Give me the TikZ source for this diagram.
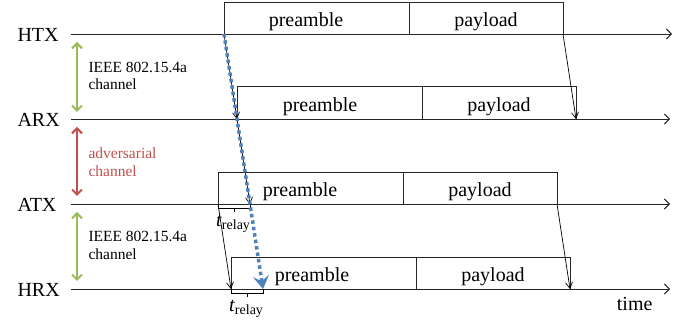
\documentclass[tikz,border=0pt]{standalone}
\usepackage{fontspec}
\setmainfont{Liberation Serif}
\usetikzlibrary{arrows.meta}
\definecolor{chgreen}{HTML}{9BBB59}
\definecolor{chred}{HTML}{C0504D}
\definecolor{chblue}{HTML}{4F81BD}
\tikzset{
  axis/.style={line width=0.9pt, draw=black!85, -{Straight Barb[length=5pt,width=10pt]}},
  frame/.style={line width=0.8pt, draw=black!85},
  prop/.style={line width=0.7pt, -{Straight Barb[length=6pt,width=7pt]}},
  chan/.style={line width=2pt, {Straight Barb[length=5pt,width=10pt]}-{Straight Barb[length=5pt,width=10pt]}},
  big/.style={font=\fontsize{20}{24}\selectfont},
  small/.style={font=\fontsize{15.5}{18}\selectfont, anchor=base west},
  brace/.style={line width=0.8pt},
  relay/.style={dash pattern=on 3.5pt off 3pt, line width=3.5pt, draw=chblue, -{Stealth[length=13pt,width=16pt,inset=5pt]}}
}
\begin{document}
\begin{tikzpicture}[x=1pt,y=-1pt]
\useasboundingbox (0,0) rectangle (691,328);
% axes
\coordinate (HTXs) at (71,34);  \coordinate (HTXe) at (672,34);
\coordinate (ARXs) at (71,119); \coordinate (ARXe) at (670,119);
\coordinate (ATXs) at (71,204); \coordinate (ATXe) at (670,204);
\coordinate (HRXs) at (71,289); \coordinate (HRXe) at (670,289);
\draw[axis] (HTXs) -- (HTXe);
\draw[axis] (ARXs) -- (ARXe);
\draw[axis] (ATXs) -- (ATXe);
\draw[axis] (HRXs) -- (HRXe);
\node[big, anchor=base west] (lHTX) at (14,41.5) {HTX};
\node[big, anchor=base west] (lARX) at (14,127) {ARX};
\node[big, anchor=base west] (lATX) at (14,212) {ATX};
\node[big, anchor=base west] (lHRX) at (14,297) {HRX};
\node[big, anchor=base east] (ltime) at (656,311) {time};
% frames: left, divider, right, top
\coordinate (h1) at (224,34); \coordinate (h2) at (563,34);
\coordinate (a1) at (237,119); \coordinate (a2) at (576,119);
\coordinate (t1) at (218,204); \coordinate (t2) at (557,204);
\coordinate (r1) at (231,289); \coordinate (r2) at (570,289);
\coordinate (tr) at (250,204); \coordinate (rr) at (263,289);
\draw[frame] (h1) -- (224,2) -- (563,2) -- (h2); \draw[frame] (409,2) -- (409,34);
\draw[frame] (a1) -- (237,86) -- (576,86) -- (a2); \draw[frame] (422,86) -- (422,119);
\draw[frame] (t1) -- (218,172) -- (557,172) -- (t2); \draw[frame] (403,172) -- (403,204);
\draw[frame] (r1) -- (231,257) -- (570,257) -- (r2); \draw[frame] (416,257) -- (416,289);
\node[big, anchor=base] (pH) at (306,27) {preamble};
\node[big, anchor=base] (yH) at (486,27) {payload};
\node[big, anchor=base] (pA) at (320,112) {preamble};
\node[big, anchor=base] (yA) at (499,112) {payload};
\node[big, anchor=base] (pT) at (300,197) {preamble};
\node[big, anchor=base] (yT) at (480,197) {payload};
\node[big, anchor=base] (pR) at (312,282) {preamble};
\node[big, anchor=base] (yR) at (493,282) {payload};
% relay braces
\draw[brace] (t1) -- (218,208) -- (250,208) -- (tr);
\draw[brace] (234,208) -- (234,212);
\draw[brace] (r1) -- (231,293) -- (263,293) -- (rr);
\draw[brace] (247,293) -- (247,297);
\node[anchor=base, inner sep=0pt] (tr1) at (233,227) {\fontsize{20}{24}\selectfont\textit{t}\fontsize{14}{16}\selectfont\raisebox{-3pt}{relay}};
\node[anchor=base, inner sep=0pt] (tr2) at (246,312) {\fontsize{20}{24}\selectfont\textit{t}\fontsize{14}{16}\selectfont\raisebox{-3pt}{relay}};
% propagation arrows
\draw[prop] (h1) -- (a1);
\draw[prop] (h2) -- (a2);
\draw[prop] (a1) -- (tr);
\draw[prop] (t1) -- (r1);
\draw[prop] (t2) -- (r2);
\draw[relay] (h1) -- (rr);
% channels
\coordinate (g1a) at (77,42); \coordinate (g1b) at (77,112);
\coordinate (r0a) at (77,127); \coordinate (r0b) at (77,196);
\coordinate (g2a) at (77,212); \coordinate (g2b) at (77,281);
\draw[chan, draw=chgreen] (g1a) -- (g1b);
\draw[chan, draw=chred] (r0a) -- (r0b);
\draw[chan, draw=chgreen] (g2a) -- (g2b);
\node[small] (c1a) at (85,73) {IEEE 802.15.4a};
\node[small] (c1b) at (85,90) {channel};
\node[small, text=chred] (c2a) at (85,159) {adversarial};
\node[small, text=chred] (c2b) at (85,177) {channel};
\node[small] (c3a) at (85,242) {IEEE 802.15.4a};
\node[small] (c3b) at (85,260) {channel};
\end{tikzpicture}
\end{document}
